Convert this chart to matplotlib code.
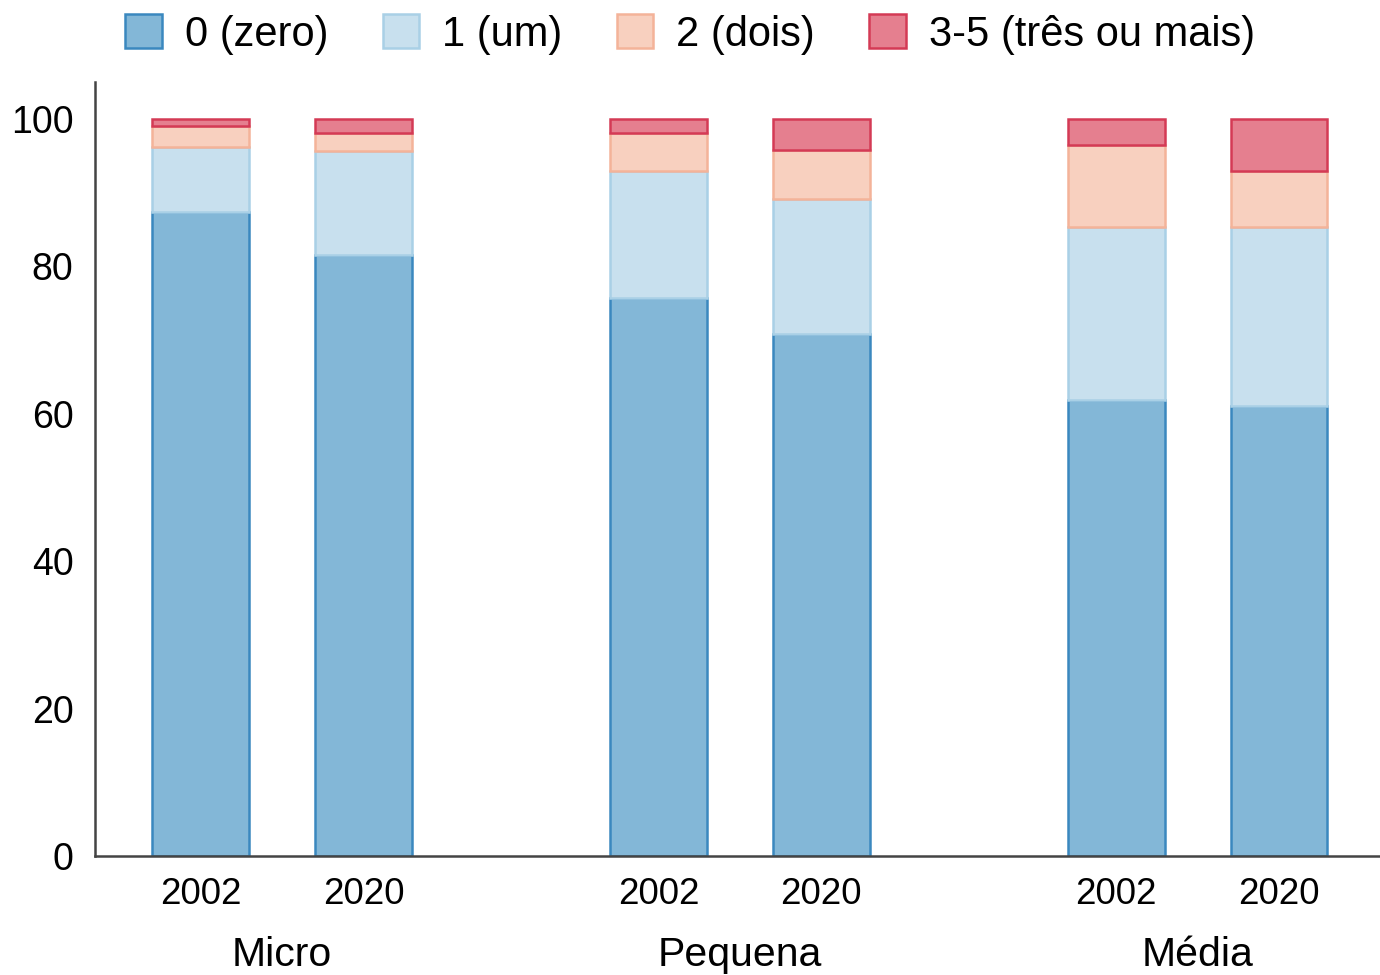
import matplotlib
matplotlib.use("Agg")
import matplotlib.pyplot as plt
import numpy as np

plt.rcParams['font.family'] = ['Liberation Sans', 'DejaVu Sans']

groups = ["Micro", "Pequena", "Média"]
years = ["2002", "2020"]
series_names = ["0 (zero)", "1 (um)", "2 (dois)", "3-5 (três ou mais)"]
zero = [87.4, 81.5, 75.7, 70.8, 61.8, 61.0]
um = [8.8, 14.1, 17.2, 18.3, 23.5, 24.3]
dois = [2.8, 2.5, 5.2, 6.6, 11.2, 7.6]
tres = [1.0, 1.9, 1.9, 4.3, 3.5, 7.1]

faces = ["#83b7d7", "#c8e0ee", "#f8d0bf", "#e57f8f"]
edges = ["#3a88bf", "#a9d0e6", "#f4b399", "#d43a55"]

fig = plt.figure(figsize=(13.8, 9.75), dpi=100)
ax = fig.add_axes([0.0688, 0.122, 0.9312, 0.794])

gap = 1.81
x = []
for g in range(len(groups)):
    for k in range(len(years)):
        x.append(g * (1 + gap) + k)
x = np.array(x)
width = 0.595

bottom = np.zeros(len(x))
handles = []
for vals, name, fc, ec in zip([zero, um, dois, tres], series_names, faces, edges):
    b = ax.bar(x, vals, width, bottom=bottom, color=fc, edgecolor=ec, linewidth=1.8, label=name)
    handles.append(b)
    bottom += np.array(vals)

ax.set_xlim(-0.65, x[-1] + 0.62)
ax.set_ylim(0, 105)
ax.set_yticks([0, 20, 40, 60, 80, 100])
ax.tick_params(axis='y', length=0, labelsize=27, pad=15.5)
ax.set_xticks(x)
ax.set_xticklabels(years * len(groups))
ax.tick_params(axis='x', length=0, labelsize=26.5, pad=15)
for sp in ['top', 'right']:
    ax.spines[sp].set_visible(False)
for sp in ['left', 'bottom']:
    ax.spines[sp].set_color('#444444')
    ax.spines[sp].set_linewidth(1.8)

for g, name in enumerate(groups):
    cx = (x[2 * g] + x[2 * g + 1]) / 2
    ax.text(cx, -0.128, name, transform=ax.get_xaxis_transform(), ha='center', va='center', fontsize=29.5)

fig.legend(handles=handles, labels=series_names, loc='upper center', bbox_to_anchor=(0.5, 1.024),
           ncol=4, frameon=False, fontsize=30, handlelength=0.88, handleheight=0.88,
           columnspacing=1.3, handletextpad=0.55)

fig.savefig("out.png", dpi=100)
